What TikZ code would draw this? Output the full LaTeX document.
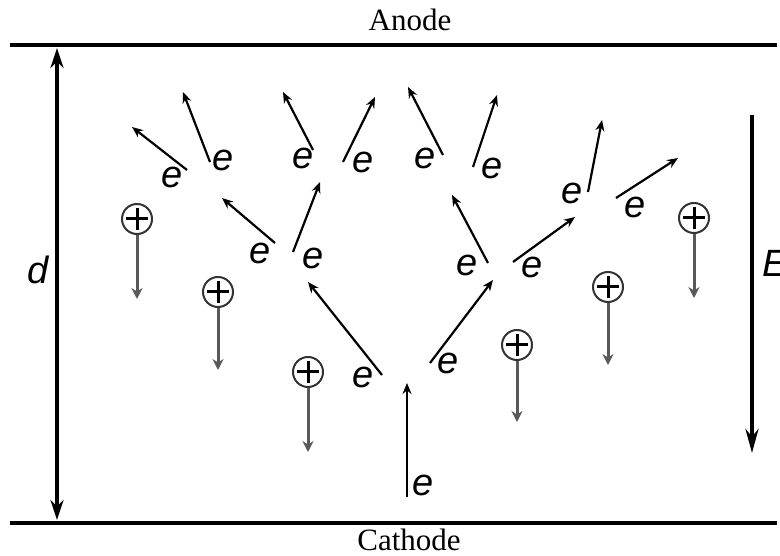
\documentclass[tikz,border=0pt]{standalone}
\usepackage{fontspec}
\setmainfont{Liberation Serif}
\newfontfamily\elfont{Liberation Sans}
\usetikzlibrary{arrows.meta}
\tikzset{
  plate/.style = {line width=4pt, black},
  lbl/.style   = {inner sep=0pt, font=\fontsize{31}{31}\selectfont},
  elab/.style  = {inner sep=0pt, font=\elfont\itshape\fontsize{38}{38}\selectfont},
  earr/.style  = {-{Stealth[length=11pt,width=9pt]}, line width=2.2pt, black},
  ion/.style   = {circle, draw=black!80, line width=2pt, minimum size=30pt, inner sep=0pt,
                  path picture={\draw[line width=3pt, black]
                    ([xshift=-11pt]path picture bounding box.center) -- ([xshift=11pt]path picture bounding box.center)
                    ([yshift=-11pt]path picture bounding box.center) -- ([yshift=11pt]path picture bounding box.center);}},
  iarr/.style  = {-{Stealth[length=11pt,width=11pt]}, line width=3pt, black!65},
  dimarr/.style = {{Stealth[length=20pt,width=13pt]}-{Stealth[length=20pt,width=13pt]}, line width=4.5pt, black},
  fldarr/.style = {-{Stealth[length=24pt,width=13pt]}, line width=4pt, black},
}

\begin{document}
\begin{tikzpicture}[x=1pt, y=-1pt]
  \useasboundingbox (0,0) rectangle (780,556);
  \coordinate (anL) at (10,45);  \coordinate (anR) at (777,45);
  \coordinate (caL) at (10,523); \coordinate (caR) at (777,523);
  \draw[plate] (anL) -- (anR);
  \draw[plate] (caL) -- (caR);
  \node[lbl, anchor=base] (anode) at (410,31) {Anode};
  \node[lbl, anchor=base] (cathode) at (409,550) {Cathode};

  \coordinate (dtop) at (57,48); \coordinate (dbot) at (57,520);
  \draw[dimarr] (dtop) -- (dbot);
  \node[elab] (dlab) at (38,270) {d};
  \coordinate (Etop) at (752,115); \coordinate (Ebot) at (752,453);
  \draw[fldarr] (Etop) -- (Ebot);
  \node[elab, anchor=west] (Elab) at (762,263) {E};

  \node[elab] (e0) at (423,485) {e};   \coordinate (t0) at (407,383);
  \node[elab] (e1a) at (363,377) {e};  \coordinate (t1a) at (308,282);
  \node[elab] (e1b) at (448,363) {e};  \coordinate (t1b) at (493,280);
  \node[elab] (e2a) at (260,253) {e};  \coordinate (t2a) at (222,198);
  \node[elab] (e2b) at (313,258) {e};  \coordinate (t2b) at (320,182);
  \node[elab] (e2c) at (467,265) {e};  \coordinate (t2c) at (452,195);
  \node[elab] (e2d) at (532,267) {e};  \coordinate (t2d) at (575,217);
  \node[elab] (e3a) at (172,177) {e};  \coordinate (t3a) at (132,127);
  \node[elab] (e3b) at (223,160) {e};  \coordinate (t3b) at (183,92);
  \node[elab] (e3c) at (303,158) {e};  \coordinate (t3c) at (283,92);
  \node[elab] (e3d) at (363,162) {e};  \coordinate (t3d) at (375,97);
  \node[elab] (e3e) at (425,158) {e};  \coordinate (t3e) at (408,87);
  \node[elab] (e3f) at (492,168) {e};  \coordinate (t3f) at (497,95);
  \node[elab] (e3g) at (572,193) {e};  \coordinate (t3g) at (602,120);
  \node[elab] (e3h) at (635,207) {e};  \coordinate (t3h) at (678,158);

  \draw[earr] ([shift={(-16,12)}]e0.center) -- (t0);
  \draw[earr] ([shift={(19,-2)}]e1a.center) -- (t1a);
  \draw[earr] ([shift={(-18,0)}]e1b.center) -- (t1b);
  \draw[earr] ([shift={(15,-10)}]e2a.center) -- (t2a);
  \draw[earr] ([shift={(-20,-6)}]e2b.center) -- (t2b);
  \draw[earr] ([shift={(21,-2)}]e2c.center) -- (t2c);
  \draw[earr] ([shift={(-19,-5)}]e2d.center) -- (t2d);
  \draw[earr] ([shift={(15,-7)}]e3a.center) -- (t3a);
  \draw[earr] ([shift={(-13,2)}]e3b.center) -- (t3b);
  \draw[earr] ([shift={(10,-8)}]e3c.center) -- (t3c);
  \draw[earr] ([shift={(-20,0)}]e3d.center) -- (t3d);
  \draw[earr] ([shift={(18,-3)}]e3e.center) -- (t3e);
  \draw[earr] ([shift={(-19,-1)}]e3f.center) -- (t3f);
  \draw[earr] ([shift={(16,-1)}]e3g.center) -- (t3g);
  \draw[earr] ([shift={(-19,-9)}]e3h.center) -- (t3h);

  \node[ion] (i1) at (137,219) {}; \coordinate (i1t) at (137,299);
  \node[ion] (i2) at (218,292) {}; \coordinate (i2t) at (218,370);
  \node[ion] (i3) at (308,372) {}; \coordinate (i3t) at (308,452);
  \node[ion] (i4) at (517,345) {}; \coordinate (i4t) at (517,422);
  \node[ion] (i5) at (608,287) {}; \coordinate (i5t) at (608,365);
  \node[ion] (i6) at (694,218) {}; \coordinate (i6t) at (694,298);
  \draw[iarr] (i1) -- (i1t);
  \draw[iarr] (i2) -- (i2t);
  \draw[iarr] (i3) -- (i3t);
  \draw[iarr] (i4) -- (i4t);
  \draw[iarr] (i5) -- (i5t);
  \draw[iarr] (i6) -- (i6t);
\end{tikzpicture}
\end{document}
